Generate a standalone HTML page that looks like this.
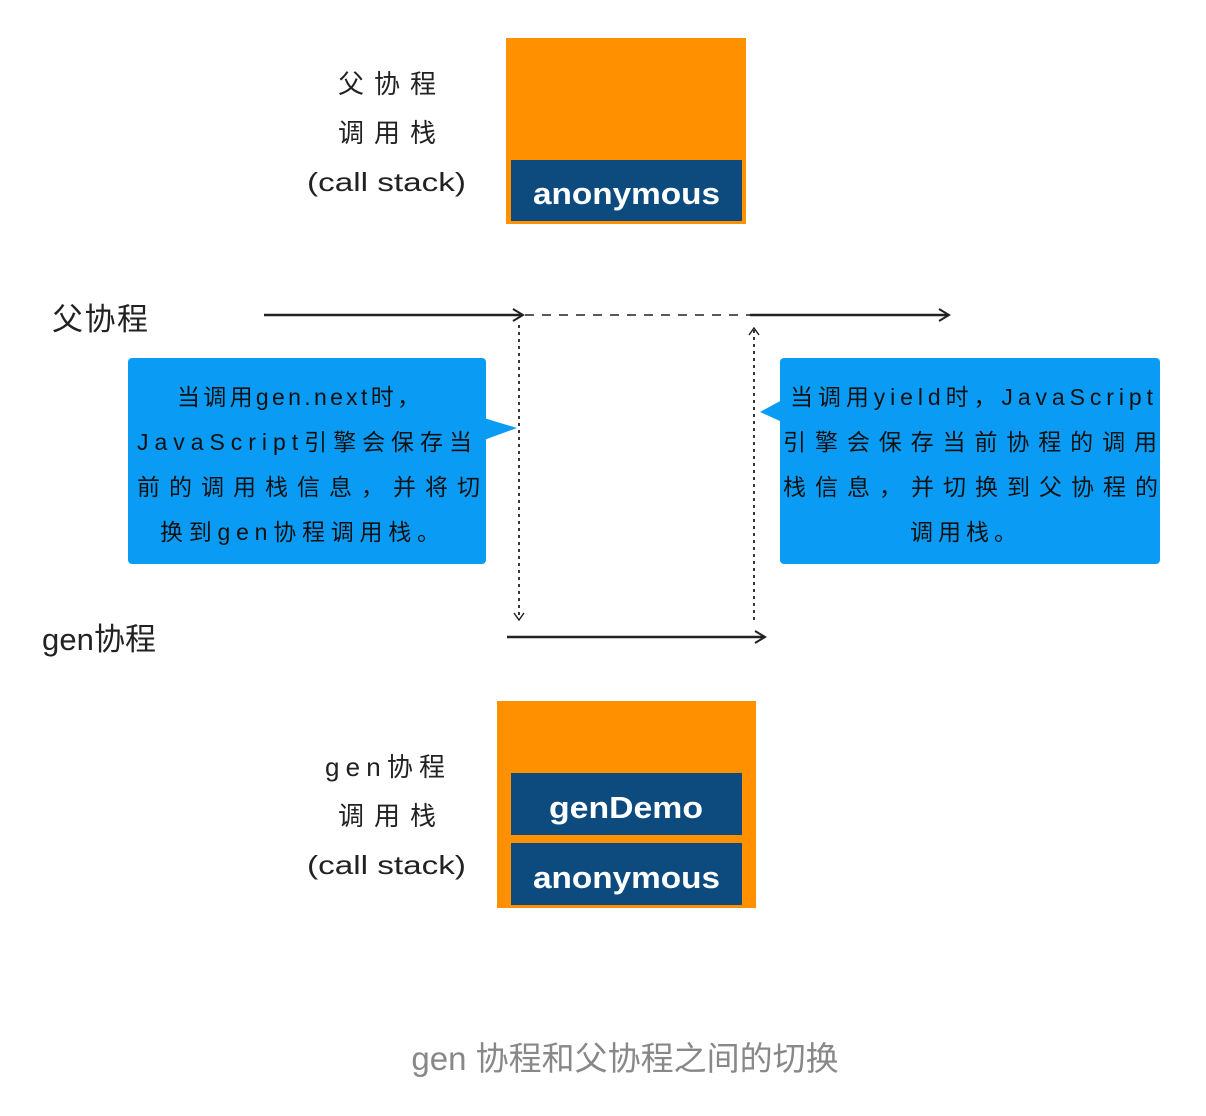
<!DOCTYPE html>
<html><head><meta charset="utf-8"><style>
html,body{margin:0;padding:0;background:#fff;}
svg{display:block;}
text{font-family:"Liberation Sans","Noto Sans CJK SC",sans-serif;}
</style></head><body>
<svg width="1206" height="1116" viewBox="0 0 1206 1116" xmlns="http://www.w3.org/2000/svg">
<defs>
<marker id="ah" markerWidth="14" markerHeight="14" refX="12" refY="7" orient="auto" markerUnits="userSpaceOnUse">
<path d="M2,1 L12,7 L2,13" fill="none" stroke="#222" stroke-width="2"/>
</marker>
<marker id="ahs" markerWidth="12" markerHeight="12" refX="10" refY="6" orient="auto" markerUnits="userSpaceOnUse">
<path d="M3,1 L10,6 L3,11" fill="none" stroke="#222" stroke-width="1.5"/>
</marker>
</defs>
<rect x="506" y="38" width="240" height="186" fill="#FF9100"/>
<rect x="511" y="160" width="231" height="61" fill="#0D4A7E"/>
<text x="533" y="204" font-size="31" font-weight="bold" fill="#fff" textLength="187" lengthAdjust="spacingAndGlyphs">anonymous</text>
<g font-size="26" fill="#222">
<text x="338" y="93" textLength="98">父协程</text>
<text x="338" y="142" textLength="98">调用栈</text>
<text x="307" y="191" textLength="159" lengthAdjust="spacingAndGlyphs">(call stack)</text>
</g>
<text x="52" y="330" font-size="31" fill="#222" textLength="96">父协程</text>
<line x1="264" y1="315" x2="523" y2="315" stroke="#222" stroke-width="2.5" marker-end="url(#ah)"/>
<line x1="525" y1="315" x2="750" y2="315" stroke="#222" stroke-width="1.5" stroke-dasharray="9,8"/>
<line x1="750" y1="315" x2="949" y2="315" stroke="#222" stroke-width="2.5" marker-end="url(#ah)"/>
<line x1="519" y1="325" x2="519" y2="620" stroke="#222" stroke-width="1.8" stroke-dasharray="3,4" marker-end="url(#ahs)"/>
<line x1="754" y1="620" x2="754" y2="328" stroke="#222" stroke-width="1.8" stroke-dasharray="3,4" marker-end="url(#ahs)"/>
<text x="42" y="650" font-size="31" fill="#222" textLength="114">gen协程</text>
<line x1="507" y1="637" x2="765" y2="637" stroke="#222" stroke-width="2.5" marker-end="url(#ah)"/>
<rect x="128" y="358" width="358" height="206" rx="4" fill="#0A9CF5"/>
<path d="M484,418 L517,428 L484,440 Z" fill="#0A9CF5"/>
<g font-size="23" fill="#111">
<text x="177" y="405" textLength="243">当调用gen.next时，</text>
<text x="137" y="450" textLength="335">JavaScript引擎会保存当</text>
<text x="137" y="495" textLength="343">前的调用栈信息，并将切</text>
<text x="160" y="540" textLength="280">换到gen协程调用栈。</text>
</g>
<rect x="780" y="358" width="380" height="206" rx="4" fill="#0A9CF5"/>
<path d="M782,400 L760,412 L782,422 Z" fill="#0A9CF5"/>
<g font-size="23" fill="#111">
<text x="790" y="405" textLength="363">当调用yield时，JavaScript</text>
<text x="783" y="450" textLength="374">引擎会保存当前协程的调用</text>
<text x="783" y="495" textLength="375">栈信息，并切换到父协程的</text>
<text x="910" y="540" textLength="107">调用栈。</text>
</g>
<rect x="497" y="701" width="259" height="207" fill="#FF9100"/>
<rect x="511" y="773" width="231" height="62" fill="#0D4A7E"/>
<rect x="511" y="843" width="231" height="62" fill="#0D4A7E"/>
<text x="549" y="818" font-size="31" font-weight="bold" fill="#fff" textLength="154" lengthAdjust="spacingAndGlyphs">genDemo</text>
<text x="533" y="888" font-size="31" font-weight="bold" fill="#fff" textLength="187" lengthAdjust="spacingAndGlyphs">anonymous</text>
<g font-size="26" fill="#222">
<text x="325" y="776" textLength="120">gen协程</text>
<text x="338" y="825" textLength="98">调用栈</text>
<text x="307" y="874" textLength="159" lengthAdjust="spacingAndGlyphs">(call stack)</text>
</g>
<text x="625" y="1070" font-size="33" fill="#888" text-anchor="middle">gen 协程和父协程之间的切换</text>
</svg>
</body></html>
